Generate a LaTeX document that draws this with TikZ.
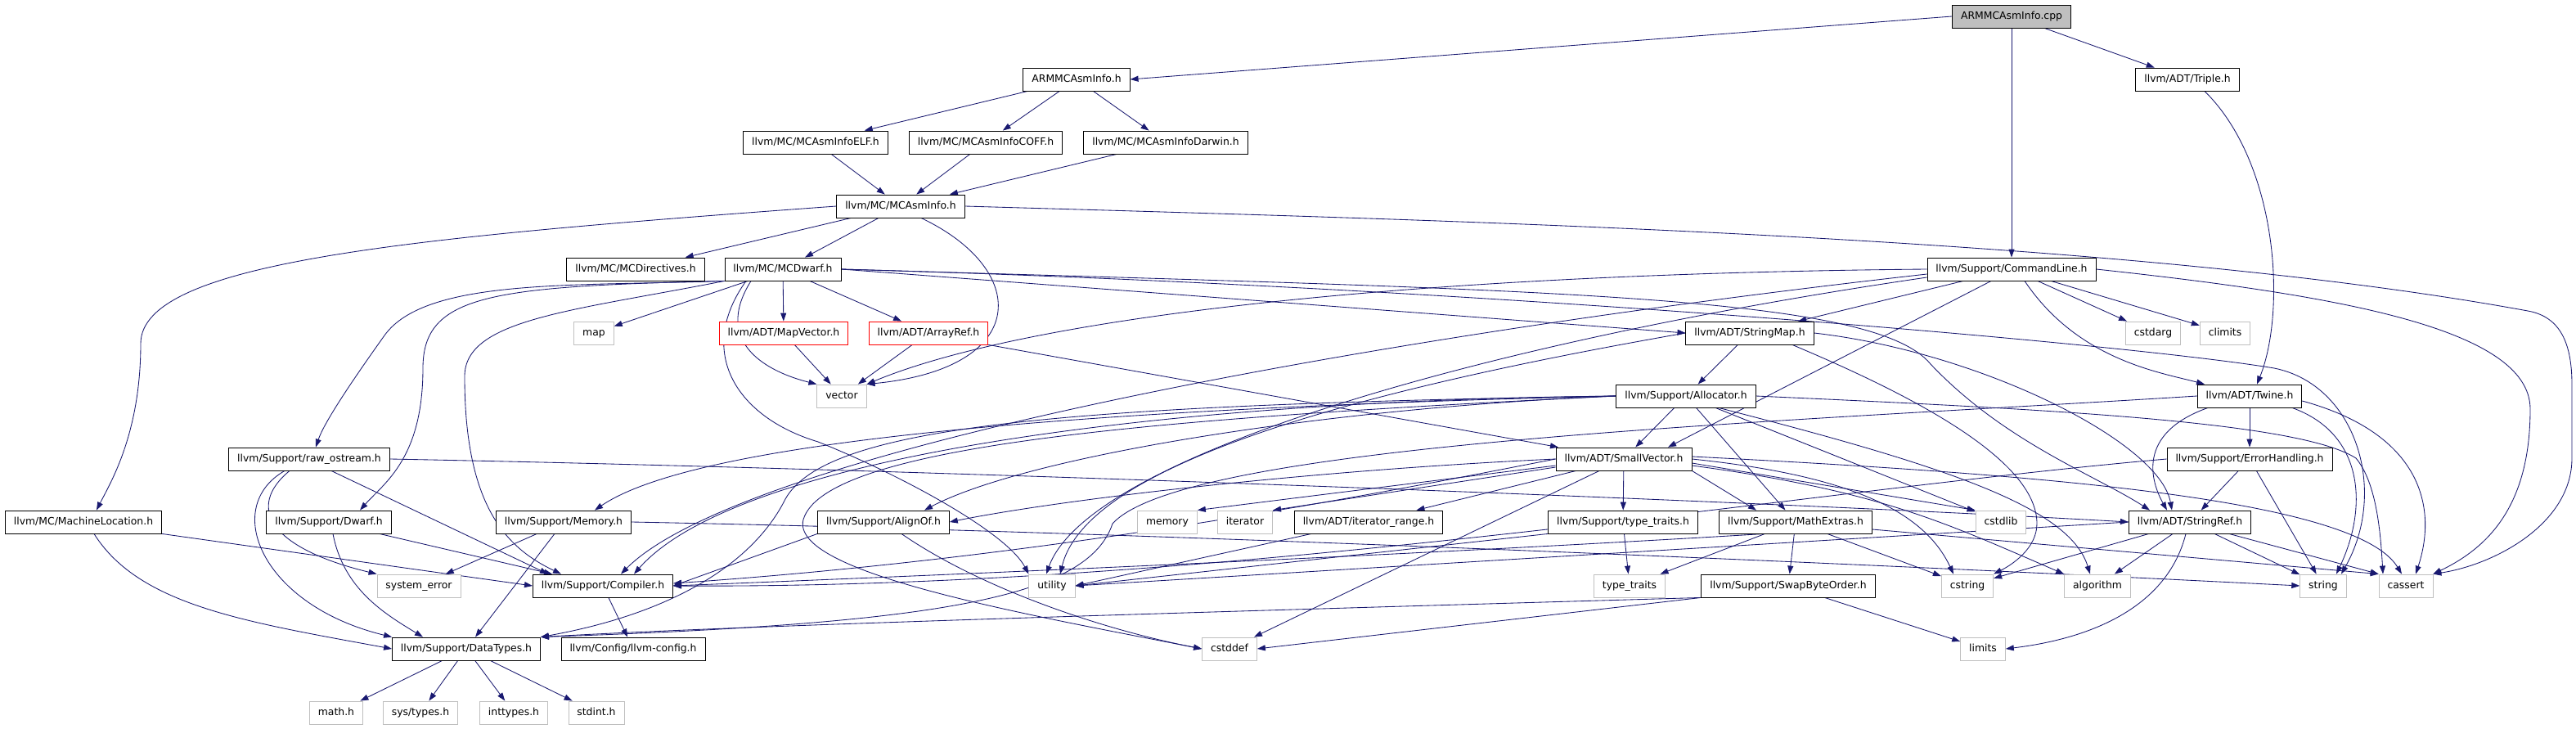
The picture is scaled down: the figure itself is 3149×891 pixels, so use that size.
\documentclass[tikz,border=0pt]{standalone}
\usepackage{fontspec}
\setmainfont{DejaVu Sans}
\usetikzlibrary{arrows.meta, backgrounds}
\definecolor{edgeblue}{RGB}{25,25,112}
\definecolor{sysgray}{RGB}{191,191,191}
\pgfdeclarelayer{edges}
\pgfsetlayers{background,edges,main}

\begin{document}
\begin{tikzpicture}[
    x=1pt, y=-1pt,
    font=\fontsize{12.4}{15}\selectfont,
    hdr/.style={draw=black, line width=0.85pt, fill=white, minimum height=28pt, inner xsep=10.5pt, inner ysep=0pt, text height=9.5pt, text depth=3pt},
    sys/.style={hdr, draw=sysgray},
    trunc/.style={hdr, draw=red},
    root/.style={hdr, fill=sysgray},
    dep/.style={draw=edgeblue, line width=0.85pt, -{Triangle[length=10pt, width=7pt]}},
]
\begin{scope}[on background layer]
\fill[white] (0,0) rectangle (3149,891);
\end{scope}
\useasboundingbox (0,0) rectangle (3149,891);

% --- Top of the graph ---
\node[root] (cpp) at (2459,20) {ARMMCAsmInfo.cpp};
\node[hdr] (armh) at (1316,97) {ARMMCAsmInfo.h};
\node[hdr] (triple) at (2674,97) {llvm/ADT/Triple.h};
\node[hdr] (elf) at (997,174) {llvm/MC/MCAsmInfoELF.h};
\node[hdr] (coff) at (1205,174) {llvm/MC/MCAsmInfoCOFF.h};
\node[hdr] (darwin) at (1425,174) {llvm/MC/MCAsmInfoDarwin.h};
\node[hdr] (mcasminfo) at (1101,252) {llvm/MC/MCAsmInfo.h};

% --- MC layer and command line ---
\node[hdr] (directives) at (777,329) {llvm/MC/MCDirectives.h};
\node[hdr] (mcdwarf) at (957,329) {llvm/MC/MCDwarf.h};
\node[hdr] (cmdline) at (2459,329) {llvm/Support/CommandLine.h};
\node[sys] (map) at (726,407) {map};
\node[trunc] (mapvector) at (958,407) {llvm/ADT/MapVector.h};
\node[trunc] (arrayref) at (1135,407) {llvm/ADT/ArrayRef.h};
\node[hdr] (stringmap) at (2139,407) {llvm/ADT/StringMap.h};
\node[sys] (cstdarg) at (2632,407) {cstdarg};
\node[sys] (climits) at (2720,407) {climits};
\node[sys] (vector) at (1029,484) {vector};
\node[hdr] (allocator) at (2061,484) {llvm/Support/Allocator.h};
\node[hdr] (twine) at (2750,484) {llvm/ADT/Twine.h};
\node[hdr] (rawostream) at (378,561) {llvm/Support/raw\_ostream.h};
\node[hdr] (smallvector) at (1985,561) {llvm/ADT/SmallVector.h};
\node[hdr] (errorhandling) at (2750,561) {llvm/Support/ErrorHandling.h};

% --- Support headers ---
\node[hdr] (machineloc) at (102,638) {llvm/MC/MachineLocation.h};
\node[hdr] (dwarf) at (402,638) {llvm/Support/Dwarf.h};
\node[hdr] (memory) at (689,638) {llvm/Support/Memory.h};
\node[hdr] (alignof) at (1080,638) {llvm/Support/AlignOf.h};
\node[sys] (stdmemory) at (1427,638) {memory};
\node[sys] (iterator) at (1522,638) {iterator};
\node[hdr] (iterrange) at (1673,638) {llvm/ADT/iterator\_range.h};
\node[hdr] (typetraitsh) at (1984,638) {llvm/Support/type\_traits.h};
\node[hdr] (mathextras) at (2195,638) {llvm/Support/MathExtras.h};
\node[sys] (cstdlib) at (2446,638) {cstdlib};
\node[hdr] (stringref) at (2677,638) {llvm/ADT/StringRef.h};
\node[sys] (systemerror) at (512,716) {system\_error};
\node[hdr] (compiler) at (737,716) {llvm/Support/Compiler.h};
\node[sys] (utility) at (1286,716) {utility};
\node[sys] (typetraits) at (1992,716) {type\_traits};
\node[hdr] (swapbyte) at (2186,716) {llvm/Support/SwapByteOrder.h};
\node[sys] (cstring) at (2405,716) {cstring};
\node[sys] (algorithm) at (2564,716) {algorithm};
\node[sys] (string) at (2840,716) {string};
\node[sys] (cassert) at (2941,716) {cassert};
\node[hdr] (datatypes) at (570,793) {llvm/Support/DataTypes.h};
\node[hdr] (llvmconfig) at (774,793) {llvm/Config/llvm-config.h};
\node[sys] (cstddef) at (1503,793) {cstddef};
\node[sys] (limits) at (2424,793) {limits};
\node[sys] (mathh) at (411,871) {math.h};
\node[sys] (systypes) at (514,871) {sys/types.h};
\node[sys] (inttypes) at (628,871) {inttypes.h};
\node[sys] (stdint) at (729,871) {stdint.h};

\begin{pgfonlayer}{edges}
% --- Root and target info ---
\draw[dep] (cpp.west) -- (armh.east);
\draw[dep] (cpp) -- (cmdline);
\draw[dep] (cpp) -- (triple);
\draw[dep] (armh) -- (elf);
\draw[dep] (armh) -- (coff);
\draw[dep] (armh) -- (darwin);
\draw[dep] (elf) -- (mcasminfo);
\draw[dep] (coff) -- (mcasminfo);
\draw[dep] (darwin) -- (mcasminfo);
\draw[dep] ([xshift=21pt]triple.south) .. controls (2785,200) and (2795,380) .. ([xshift=9pt]twine.north);

% --- MCAsmInfo.h ---
\draw[dep] (mcasminfo.west) .. controls (500,290) and (172,320) .. (172,420) .. controls (172,530) and (135,590) .. ([xshift=16pt]machineloc.north);
\draw[dep] (mcasminfo) -- (directives);
\draw[dep] (mcasminfo) -- (mcdwarf);
\draw[dep] ([xshift=25pt]mcasminfo.south) .. controls (1260,330) and (1260,450) .. (vector.north east);
\draw[dep] (mcasminfo.east) .. controls (1800,270) and (2600,290) .. (3090,380) .. controls (3130,387) and (3144,420) .. (3144,470) -- (3144,560) .. controls (3144,640) and (3050,690) .. (cassert.north east);

% --- MCDwarf.h ---
\draw[dep] (mcdwarf) -- (map);
\draw[dep] (mcdwarf) -- (mapvector);
\draw[dep] (mcdwarf) -- (arrayref);
\draw[dep] ([xshift=-39pt]mcdwarf.south) .. controls (870,420) and (940,455) .. (vector.north west);
\draw[dep] ([xshift=-45pt]mcdwarf.south) .. controls (850,430) and (900,510) .. (1000,540) .. controls (1100,580) and (1230,650) .. (utility.north west);
\draw[dep] (mcdwarf.south west) .. controls (700,350) and (520,340) .. (470,410) .. controls (420,480) and (395,520) .. ([xshift=8pt]rawostream.north);
\draw[dep] (mcdwarf.south west) .. controls (600,350) and (517,360) .. (517,450) .. controls (517,560) and (470,590) .. ([xshift=38pt]dwarf.north);
\draw[dep] (mcdwarf.south west) .. controls (700,380) and (568,390) .. (568,460) .. controls (568,620) and (620,670) .. ([xshift=-51pt]compiler.north);
\draw[dep] (mcdwarf.east) -- (stringmap.west);
\draw[dep] (mcdwarf.east) .. controls (1900,355) and (2290,360) .. (2360,445) .. controls (2450,540) and (2560,580) .. ([xshift=-49pt]stringref.north);
\draw[dep] (mcdwarf.east) .. controls (1800,350) and (2600,420) .. (2780,450) .. controls (2880,470) and (2920,600) .. ([xshift=22pt]string.north);
\draw[dep] (mapvector) -- (vector);
\draw[dep] (arrayref) -- (vector);
\draw[dep] (arrayref.south east) -- ([xshift=-80pt]smallvector.north);

% --- CommandLine.h ---
\draw[dep] (cmdline.west) .. controls (1700,335) and (1250,390) .. (vector.north east);
\draw[dep] ([yshift=-6pt]cmdline.west) .. controls (1600,420) and (900,560) .. ([xshift=22pt]compiler.north);
\draw[dep] ([yshift=-10pt]cmdline.west) .. controls (1800,420) and (1330,560) .. ([xshift=-7pt]utility.north);
\draw[dep] (cmdline) -- (stringmap);
\draw[dep] ([xshift=-25pt]cmdline.south) -- ([xshift=54pt]smallvector.north);
\draw[dep] ([xshift=16pt]cmdline.south) .. controls (2540,440) and (2640,455) .. ([xshift=-55pt]twine.north);
\draw[dep] (cmdline) -- (cstdarg);
\draw[dep] (cmdline) -- (climits);
\draw[dep] (cmdline.east) .. controls (2850,360) and (3093,400) .. (3093,500) .. controls (3093,620) and (3040,670) .. (cassert.north east);

% --- StringMap.h and Twine.h ---
\draw[dep] (stringmap) -- (allocator);
\draw[dep] (stringmap.east) .. controls (2420,430) and (2640,540) .. ([xshift=-22pt]stringref.north);
\draw[dep] ([xshift=52pt]stringmap.south) .. controls (2330,480) and (2490,560) .. (2490,640) .. controls (2490,670) and (2460,690) .. (cstring.north east);
\draw[dep] (stringmap.west) .. controls (1700,470) and (1330,560) .. ([xshift=10pt]utility.north);
\draw[dep] (twine) -- (errorhandling);
\draw[dep] ([xshift=-51pt]twine.south) .. controls (2610,530) and (2630,590) .. ([xshift=-28pt]stringref.north);
\draw[dep] ([xshift=52pt]twine.south) .. controls (2890,530) and (2895,620) .. ([xshift=16pt]string.north);
\draw[dep] ([yshift=-6pt]twine.east) .. controls (2960,530) and (2980,620) .. ([xshift=12pt]cassert.north);
\draw[dep] (twine.west) .. controls (2200,515) and (1450,540) .. (1360,640) .. controls (1330,730) and (1150,762) .. (datatypes.north east);

% --- Allocator.h ---
\draw[dep] (allocator) -- (smallvector);
\draw[dep] (allocator) -- (mathextras);
\draw[dep] (allocator) -- (cstdlib);
\draw[dep] ([xshift=40pt]allocator.south) .. controls (2380,570) and (2530,620) .. ([xshift=-9pt]algorithm.north);
\draw[dep] (allocator.east) .. controls (2500,500) and (2810,515) .. (2880,560) .. controls (2905,590) and (2910,650) .. ([xshift=-28pt]cassert.north);
\draw[dep] (allocator.west) .. controls (1600,500) and (1250,560) .. ([xshift=50pt]alignof.north);
\draw[dep] (allocator.west) .. controls (1300,500) and (850,540) .. ([xshift=38pt]memory.north);
\draw[dep] (allocator.west) .. controls (1400,490) and (900,560) .. ([xshift=38pt]compiler.north);
\draw[dep] (allocator.west) .. controls (1300,495) and (1010,520) .. (960,610) .. controls (920,690) and (820,750) .. (datatypes.north east);
\draw[dep] (allocator.west) .. controls (1450,510) and (1010,540) .. (982,635) .. controls (965,700) and (1250,750) .. (cstddef.west);

% --- SmallVector.h ---
\draw[dep] ([yshift=-8pt]smallvector.west) -- (stdmemory.north east);
\draw[dep] ([yshift=-10pt]smallvector.west) -- (iterator.north east);
\draw[dep] (smallvector) -- (iterrange);
\draw[dep] (smallvector) -- (typetraitsh);
\draw[dep] (smallvector) -- (cstddef);
\draw[dep] (smallvector.west) .. controls (1600,575) and (1300,610) .. (alignof.east);
\draw[dep] (smallvector.west) .. controls (1700,600) and (1300,680) .. ([yshift=3pt]compiler.east);
\draw[dep] (smallvector.south east) -- ([xshift=-48pt]mathextras.north);
\draw[dep] ([yshift=-5pt]smallvector.east) -- (cstdlib.north west);
\draw[dep] (smallvector.east) .. controls (2250,580) and (2350,620) .. ([xshift=-17pt]cstring.north);
\draw[dep] ([yshift=-8pt]smallvector.east) .. controls (2300,600) and (2380,640) .. (algorithm.north west);
\draw[dep] ([yshift=3pt]smallvector.east) .. controls (2500,580) and (2880,610) .. ([xshift=-5pt]cassert.north);

% --- Lower support headers ---
\draw[dep] (rawostream.east) .. controls (1200,575) and (2200,615) .. (stringref.west);
\draw[dep] ([xshift=27pt]rawostream.south) -- ([xshift=-67pt]compiler.north);
\draw[dep] ([xshift=-24pt]rawostream.south) .. controls (300,620) and (330,670) .. (systemerror.north west);
\draw[dep] ([xshift=-30pt]rawostream.south) .. controls (270,620) and (320,740) .. (datatypes.north west);
\draw[dep] (machineloc.south east) -- (compiler.west);
\draw[dep] ([xshift=13pt]machineloc.south) .. controls (170,740) and (300,760) .. (datatypes.west);
\draw[dep] (dwarf) -- (compiler);
\draw[dep] ([xshift=5pt]dwarf.south) .. controls (420,720) and (470,750) .. ([xshift=-53pt]datatypes.north);
\draw[dep] (memory) -- (systemerror);
\draw[dep] (memory) -- (datatypes);
\draw[dep] (memory.east) .. controls (1400,650) and (2300,690) .. (string.west);
\draw[dep] (alignof.south west) -- (compiler.east);
\draw[dep] ([xshift=22pt]alignof.south) .. controls (1200,720) and (1350,770) .. (cstddef.west);
\draw[dep] ([xshift=-70pt]iterrange.south) -- (utility.east);
\draw[dep] (typetraitsh.south west) -- (utility.east);
\draw[dep] (typetraitsh) -- (typetraits);
\draw[dep] (mathextras) -- (swapbyte);
\draw[dep] (mathextras) -- (typetraits);
\draw[dep] (mathextras) -- (cstring);
\draw[dep] ([yshift=-9pt]mathextras.east) -- (cassert.north west);
\draw[dep] ([xshift=-38pt]mathextras.south) .. controls (1700,680) and (1100,705) .. (compiler.east);
\draw[dep] (errorhandling) -- (stringref);
\draw[dep] (errorhandling) -- (string);
\draw[dep] (errorhandling.west) .. controls (2200,600) and (1500,720) .. (compiler.east);
\draw[dep] (stringref) -- (cstring);
\draw[dep] (stringref) -- (algorithm);
\draw[dep] (stringref) -- (string);
\draw[dep] ([xshift=48pt]stringref.south) -- (cassert.north west);
\draw[dep] ([xshift=-5pt]stringref.south) .. controls (2650,740) and (2560,780) .. (limits.east);
\draw[dep] (stringref.west) -- (utility.east);
\draw[dep] (swapbyte) -- (limits);
\draw[dep] (swapbyte.south west) -- (cstddef.east);
\draw[dep] (swapbyte.south west) .. controls (1400,750) and (900,765) .. (datatypes.north east);
\draw[dep] (compiler) -- (llvmconfig);

% --- DataTypes.h ---
\draw[dep] (datatypes) -- (mathh);
\draw[dep] (datatypes) -- (systypes);
\draw[dep] (datatypes) -- (inttypes);
\draw[dep] (datatypes) -- (stdint);
\end{pgfonlayer}

\end{tikzpicture}
\end{document}
